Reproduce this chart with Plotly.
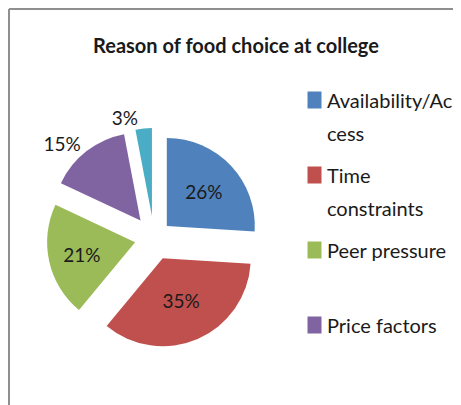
import plotly.graph_objects as go

# ---- data ----
title_text = "Reason of food choice at college"
labels = ["Availability/Access", "Time constraints", "Peer pressure", "Price factors", "Other"]
values = [26, 35, 21, 15, 3]
colors = ["#4F81BD", "#C0504D", "#9BBB59", "#8064A2", "#4BACC6"]
# legend text as wrapped in the picture (5th entry is cut off in the reference)
legend_lines = [["Availability/Ac", "cess"], ["Time", "constraints"], ["Peer pressure"], ["Price factors"]]

# page body has an 8px default margin, so the figure is a bit smaller than the window
OFF = 8
W, H = 453, 397
FONT = "Lato, Roboto, sans-serif"
TXT = "#1a1a1a"


def px(x):
    return (x - OFF) / W


def py(y):
    return 1 - (y - OFF) / H


cx, cy, R = 154, 238, 110

fig = go.Figure(
    go.Pie(
        labels=labels,
        values=values,
        sort=False,
        direction="clockwise",
        rotation=0,
        marker=dict(colors=colors, line=dict(width=0)),
        pull=[0.2, 0.25, 0.22, 0.25, 0.25],
        texttemplate="%{percent:.0%}",
        textposition=["inside", "inside", "inside", "outside", "outside"],
        insidetextorientation="horizontal",
        textfont=dict(family=FONT, size=19, color=TXT),
        domain=dict(x=[px(cx - R), px(cx + R)], y=[py(cy + R), py(cy - R)]),
        showlegend=False,
        automargin=False,
        hoverinfo="label+percent",
    )
)

annotations = []
for i, lines in enumerate(legend_lines):
    y0 = 100 + 75 * i
    annotations.append(dict(
        x=px(314), y=py(y0), xref="paper", yref="paper", text=" ",
        showarrow=False, bgcolor=colors[i], width=13, height=16, borderpad=0,
        xanchor="center", yanchor="middle", font=dict(size=10),
    ))
    for j, line in enumerate(lines):
        annotations.append(dict(
            x=px(325), y=py(y0 + 33 * j), xref="paper", yref="paper", text=line,
            showarrow=False, xanchor="left", yanchor="middle",
            font=dict(family=FONT, size=20, color=TXT),
        ))

shapes = [
    dict(type="line", xref="paper", yref="paper", x0=1 / W, x1=1.0, y0=1 - 1 / H, y1=1 - 1 / H,
         line=dict(color="#8f8f8f", width=2)),
    dict(type="line", xref="paper", yref="paper", x0=1 / W, x1=1 / W, y0=1 - 1 / H, y1=0.0,
         line=dict(color="#8f8f8f", width=2)),
]

fig.update_layout(
    width=W, height=H,
    margin=dict(l=0, r=0, t=0, b=0, pad=0, autoexpand=False),
    showlegend=False,
    paper_bgcolor="white", plot_bgcolor="white",
    title=dict(text="<b>" + title_text + "</b>", x=px(236), y=py(46), xanchor="center",
               yanchor="middle", font=dict(family=FONT, size=20, color=TXT)),
    annotations=annotations,
    shapes=shapes,
)

fig.write_html("out.html")
